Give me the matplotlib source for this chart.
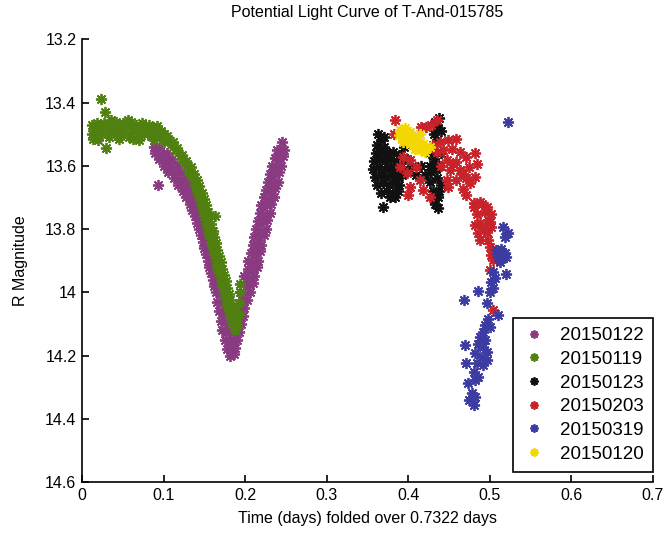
import matplotlib
matplotlib.use("Agg")
import matplotlib.pyplot as plt

plt.rcParams['font.family'] = ['Liberation Sans', 'DejaVu Sans']

# ---------------- data ----------------
labels = ["20150122", "20150119", "20150123", "20150203", "20150319", "20150120"]
colors = ["#8a3a80", "#50800f", "#111111", "#c8222a", "#3b3ba2", "#f2d800"]

pts_20150122 = [
    (0.088, 13.54), (0.094, 13.545),
    (0.090, 13.56), (0.098, 13.565), (0.104, 13.56),
    (0.094, 13.58), (0.102, 13.585), (0.110, 13.58),
    (0.100, 13.60), (0.108, 13.605), (0.116, 13.60),
    (0.106, 13.62), (0.114, 13.625), (0.121, 13.62),
    (0.113, 13.64), (0.120, 13.645), (0.127, 13.64),
    (0.118, 13.66), (0.125, 13.665), (0.132, 13.66),
    (0.124, 13.68), (0.130, 13.685), (0.136, 13.68),
    (0.128, 13.70), (0.134, 13.705), (0.140, 13.70),
    (0.132, 13.72), (0.138, 13.725), (0.143, 13.72),
    (0.135, 13.74), (0.141, 13.745), (0.146, 13.74),
    (0.138, 13.76), (0.144, 13.765), (0.149, 13.76),
    (0.141, 13.78), (0.147, 13.785), (0.152, 13.78),
    (0.144, 13.80), (0.149, 13.805), (0.154, 13.80),
    (0.146, 13.82), (0.151, 13.825), (0.156, 13.82),
    (0.148, 13.84), (0.153, 13.845), (0.158, 13.84),
    (0.150, 13.86), (0.155, 13.865), (0.160, 13.86),
    (0.152, 13.88), (0.157, 13.885), (0.162, 13.88),
    (0.154, 13.90), (0.159, 13.905), (0.164, 13.90),
    (0.156, 13.92), (0.161, 13.925), (0.166, 13.92),
    (0.158, 13.94), (0.163, 13.945), (0.168, 13.94),
    (0.160, 13.96), (0.165, 13.965), (0.170, 13.96),
    (0.162, 13.98), (0.167, 13.985), (0.172, 13.98),
    (0.164, 14.00), (0.169, 14.005), (0.174, 14.00),
    (0.166, 14.03), (0.171, 14.035), (0.176, 14.03),
    (0.168, 14.06), (0.173, 14.065), (0.178, 14.06),
    (0.170, 14.09), (0.175, 14.095), (0.180, 14.09),
    (0.172, 14.12), (0.177, 14.125), (0.182, 14.12),
    (0.175, 14.15), (0.180, 14.155), (0.185, 14.15),
    (0.178, 14.18), (0.183, 14.185), (0.188, 14.175),
    (0.181, 14.20), (0.186, 14.195),
    (0.184, 14.17), (0.190, 14.15), (0.186, 14.125),
    (0.193, 14.125), (0.188, 14.10), (0.195, 14.10),
    (0.191, 14.075), (0.197, 14.075), (0.193, 14.05),
    (0.199, 14.05), (0.196, 14.025), (0.202, 14.025),
    (0.194, 14.00), (0.200, 14.005), (0.206, 14.00),
    (0.198, 13.975), (0.205, 13.975), (0.210, 13.97),
    (0.199, 13.95), (0.205, 13.955), (0.211, 13.95),
    (0.203, 13.925), (0.209, 13.925), (0.214, 13.92),
    (0.204, 13.90), (0.210, 13.905), (0.216, 13.90),
    (0.207, 13.875), (0.213, 13.875), (0.218, 13.87),
    (0.209, 13.85), (0.215, 13.855), (0.220, 13.85),
    (0.211, 13.825), (0.217, 13.825), (0.223, 13.82),
    (0.213, 13.80), (0.219, 13.805), (0.225, 13.80),
    (0.216, 13.775), (0.222, 13.775), (0.227, 13.77),
    (0.218, 13.75), (0.224, 13.755), (0.230, 13.75),
    (0.220, 13.725), (0.226, 13.725), (0.232, 13.72),
    (0.223, 13.70), (0.229, 13.705), (0.235, 13.70),
    (0.225, 13.675), (0.231, 13.675), (0.237, 13.67),
    (0.228, 13.65), (0.234, 13.655), (0.240, 13.65),
    (0.230, 13.625), (0.236, 13.625), (0.242, 13.62),
    (0.233, 13.60), (0.238, 13.605), (0.244, 13.60),
    (0.236, 13.575), (0.241, 13.575), (0.246, 13.57),
    (0.239, 13.55), (0.243, 13.555), (0.247, 13.55),
    (0.245, 13.525),
    (0.093, 13.66),
]

pts_20150119 = [
    (0.012, 13.47), (0.012, 13.50), (0.015, 13.485), (0.018, 13.465),
    (0.018, 13.51), (0.022, 13.48), (0.025, 13.50), (0.027, 13.465),
    (0.030, 13.485), (0.033, 13.51), (0.036, 13.47), (0.039, 13.49),
    (0.042, 13.46), (0.044, 13.505), (0.047, 13.48), (0.050, 13.465),
    (0.052, 13.495), (0.055, 13.475), (0.058, 13.51), (0.060, 13.46),
    (0.063, 13.49), (0.066, 13.47), (0.068, 13.505), (0.071, 13.48),
    (0.074, 13.465), (0.076, 13.50), (0.079, 13.485), (0.082, 13.47),
    (0.084, 13.505), (0.087, 13.48), (0.090, 13.495), (0.092, 13.475),
    (0.095, 13.51), (0.097, 13.49), (0.100, 13.50), (0.100, 13.525),
    (0.035, 13.455), (0.056, 13.455), (0.045, 13.515), (0.070, 13.52),
    (0.020, 13.52), (0.088, 13.52), (0.014, 13.515), (0.062, 13.515),
    (0.104, 13.505), (0.106, 13.52), (0.111, 13.525), (0.112, 13.54),
    (0.117, 13.545), (0.118, 13.56), (0.123, 13.565), (0.122, 13.58),
    (0.128, 13.585), (0.127, 13.60), (0.133, 13.605), (0.131, 13.62),
    (0.137, 13.625), (0.135, 13.64), (0.141, 13.645), (0.138, 13.66),
    (0.144, 13.665), (0.141, 13.68), (0.147, 13.685), (0.144, 13.70),
    (0.150, 13.705), (0.146, 13.72), (0.152, 13.725), (0.148, 13.74),
    (0.154, 13.745), (0.150, 13.76), (0.156, 13.765), (0.152, 13.78),
    (0.158, 13.785), (0.154, 13.80), (0.160, 13.805), (0.156, 13.82),
    (0.162, 13.825), (0.158, 13.84), (0.164, 13.845), (0.160, 13.86),
    (0.166, 13.865), (0.162, 13.88), (0.168, 13.885), (0.164, 13.90),
    (0.170, 13.905), (0.166, 13.92), (0.172, 13.925), (0.168, 13.94),
    (0.174, 13.945), (0.170, 13.96), (0.176, 13.965), (0.172, 13.98),
    (0.178, 13.985), (0.174, 14.00), (0.180, 14.005), (0.176, 14.02),
    (0.182, 14.025), (0.178, 14.04), (0.184, 14.045), (0.180, 14.06),
    (0.186, 14.065), (0.182, 14.08), (0.188, 14.085), (0.184, 14.10),
    (0.190, 14.10), (0.187, 14.12), (0.192, 14.07), (0.193, 14.035),
    (0.194, 14.00), (0.194, 13.975),
    (0.023, 13.39), (0.028, 13.43), (0.029, 13.545), (0.163, 13.76),
]

pts_20150123 = [
    (0.360, 13.56), (0.367, 13.555), (0.374, 13.56), (0.381, 13.555), (0.388, 13.565),
    (0.358, 13.585), (0.365, 13.58), (0.372, 13.585), (0.379, 13.58), (0.386, 13.585), (0.392, 13.58),
    (0.357, 13.61), (0.364, 13.605), (0.371, 13.61), (0.378, 13.605), (0.385, 13.61), (0.391, 13.605),
    (0.359, 13.635), (0.366, 13.63), (0.373, 13.635), (0.380, 13.63), (0.387, 13.635), (0.392, 13.63),
    (0.362, 13.66), (0.369, 13.655), (0.376, 13.66), (0.383, 13.655), (0.389, 13.66),
    (0.367, 13.685), (0.374, 13.68), (0.381, 13.685), (0.387, 13.68),
    (0.377, 13.70), (0.369, 13.73), (0.384, 13.70),
    (0.363, 13.50), (0.366, 13.52), (0.362, 13.535), (0.370, 13.54),
    (0.370, 13.51),
    (0.395, 13.54), (0.398, 13.58), (0.404, 13.60), (0.396, 13.62),
    (0.410, 13.63), (0.416, 13.60), (0.420, 13.63),
    (0.425, 13.56), (0.432, 13.58), (0.438, 13.60), (0.428, 13.62),
    (0.435, 13.64), (0.440, 13.66), (0.430, 13.68), (0.437, 13.70),
    (0.433, 13.72), (0.427, 13.60), (0.440, 13.56), (0.426, 13.65),
    (0.434, 13.61), (0.438, 13.68), (0.431, 13.705), (0.436, 13.735),
    (0.433, 13.46), (0.438, 13.45), (0.436, 13.48), (0.432, 13.50),
    (0.440, 13.49), (0.435, 13.52),
]

pts_20150203 = [
    (0.384, 13.454), (0.382, 13.498), (0.416, 13.477), (0.422, 13.477),
    (0.428, 13.472), (0.435, 13.456), (0.439, 13.525), (0.449, 13.520),
    (0.459, 13.514), (0.443, 13.551), (0.453, 13.546), (0.463, 13.556),
    (0.447, 13.582), (0.459, 13.588), (0.471, 13.572), (0.482, 13.561),
    (0.451, 13.614), (0.463, 13.614), (0.475, 13.604), (0.484, 13.593),
    (0.447, 13.646), (0.459, 13.646), (0.471, 13.640), (0.482, 13.635),
    (0.449, 13.667), (0.467, 13.672), (0.471, 13.693),
    (0.480, 13.730), (0.490, 13.720), (0.484, 13.751), (0.494, 13.746),
    (0.488, 13.782), (0.498, 13.772), (0.502, 13.793), (0.492, 13.798),
    (0.402, 13.582), (0.410, 13.604), (0.398, 13.624), (0.414, 13.646),
    (0.402, 13.667), (0.418, 13.677), (0.426, 13.698), (0.400, 13.693),
    (0.394, 13.572), (0.390, 13.604), (0.430, 13.535), (0.435, 13.556),
    (0.480, 13.719), (0.488, 13.714), (0.496, 13.730), (0.502, 13.751),
    (0.482, 13.788), (0.500, 13.777), (0.486, 13.814), (0.496, 13.809),
    (0.488, 13.835), (0.498, 13.835), (0.500, 13.856), (0.502, 13.883),
    (0.504, 13.898), (0.500, 13.930), (0.504, 14.057),
    (0.455, 13.595), (0.467, 13.625), (0.476, 13.655), (0.440, 13.600),
]

pts_20150319 = [
    (0.522, 13.463), (0.516, 13.793), (0.522, 13.814), (0.518, 13.825),
    (0.508, 13.867), (0.514, 13.862), (0.518, 13.877), (0.510, 13.888),
    (0.516, 13.893), (0.520, 13.888), (0.512, 13.904), (0.520, 13.941),
    (0.504, 13.935), (0.506, 13.956), (0.502, 13.967), (0.504, 13.988),
    (0.500, 13.999), (0.486, 13.995), (0.468, 14.023), (0.496, 14.035),
    (0.510, 14.072), (0.498, 14.083), (0.494, 14.104), (0.500, 14.109),
    (0.492, 14.125), (0.488, 14.141), (0.494, 14.151), (0.486, 14.162),
    (0.492, 14.172), (0.469, 14.167), (0.496, 14.188), (0.482, 14.193),
    (0.490, 14.204), (0.496, 14.215), (0.484, 14.225), (0.492, 14.230),
    (0.471, 14.225), (0.480, 14.251), (0.486, 14.267), (0.482, 14.278),
    (0.473, 14.288), (0.478, 14.320), (0.482, 14.330), (0.475, 14.341),
    (0.480, 14.357),
]

pts_20150120 = [
    (0.390, 13.488), (0.396, 13.482), (0.402, 13.493), (0.392, 13.509),
    (0.398, 13.509), (0.406, 13.509), (0.412, 13.519), (0.394, 13.525),
    (0.402, 13.530), (0.410, 13.535), (0.418, 13.530), (0.422, 13.546),
    (0.416, 13.551), (0.426, 13.540), (0.408, 13.546), (0.400, 13.514),
    (0.388, 13.503), (0.420, 13.556), (0.414, 13.498), (0.406, 13.525),
]

series = [pts_20150122, pts_20150119, pts_20150123, pts_20150203, pts_20150319, pts_20150120]

xticks = [0, 0.1, 0.2, 0.3, 0.4, 0.5, 0.6, 0.7]
xtick_labels = ["0", "0.1", "0.2", "0.3", "0.4", "0.5", "0.6", "0.7"]
yticks = [13.2, 13.4, 13.6, 13.8, 14.0, 14.2, 14.4, 14.6]
ytick_labels = ["13.2", "13.4", "13.6", "13.8", "14", "14.2", "14.4", "14.6"]

# ---------------- figure ----------------
fig = plt.figure(figsize=(6.67, 5.38), dpi=100)
ax = fig.add_axes([0.123, 0.104, 0.856, 0.823])

star = (8, 2, 0)
for pts, lab, col in zip(series, labels, colors):
    xs = [p[0] for p in pts]
    ys = [p[1] for p in pts]
    ax.plot(xs, ys, linestyle='none', marker=star, markersize=8,
            markeredgewidth=1.3, color=col, label=lab)

ax.set_xlim(0, 0.7)
ax.set_ylim(14.6, 13.2)
ax.set_xticks(xticks)
ax.set_xticklabels(xtick_labels)
ax.set_yticks(yticks)
ax.set_yticklabels(ytick_labels)
ax.spines['top'].set_visible(False)
ax.spines['right'].set_visible(False)
for s in ['left', 'bottom']:
    ax.spines[s].set_linewidth(1.2)
ax.tick_params(direction='in', length=5, width=1.2, labelsize=11.5, pad=4)

ax.set_title("Potential Light Curve of T-And-015785", fontsize=11.5, pad=16)
ax.set_xlabel("Time (days) folded over 0.7322 days", fontsize=11.5, labelpad=6)
ax.set_ylabel("R Magnitude", fontsize=11.5, labelpad=12)

leg = ax.legend(loc='lower right', bbox_to_anchor=(1.0, 0.0226), borderaxespad=0,
                fontsize=13.5, numpoints=1, markerscale=0.75, handlelength=1.2,
                handletextpad=0.8, labelspacing=0.35, borderpad=0.5,
                fancybox=False, framealpha=1, edgecolor='black')
leg.get_frame().set_linewidth(1.2)

fig.savefig("out.png", dpi=100)
